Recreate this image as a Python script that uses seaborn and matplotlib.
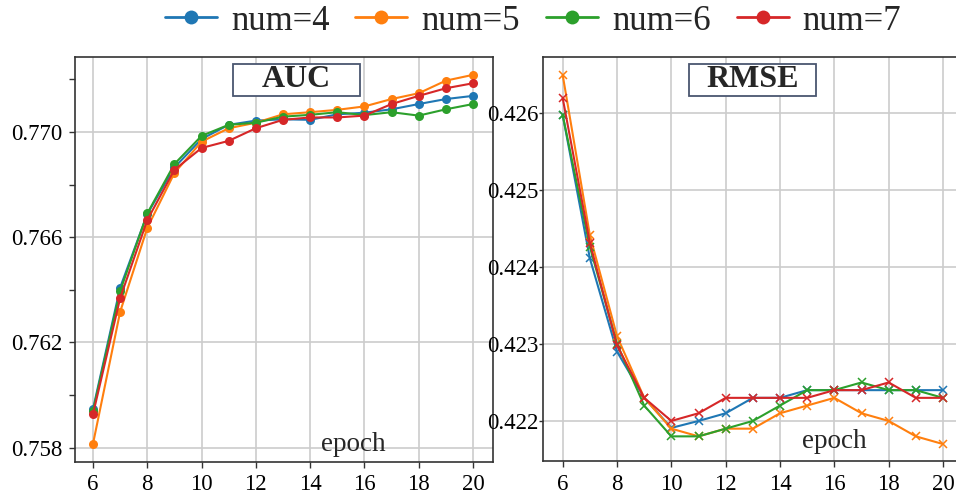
import numpy as np
import pandas as pd
import seaborn as sns
import matplotlib
matplotlib.use("Agg")
import matplotlib.pyplot as plt
from matplotlib.patches import Rectangle
from matplotlib.lines import Line2D
from matplotlib.ticker import FormatStrFormatter, MultipleLocator, FixedLocator

# ---------------- data ----------------
epochs = [6, 7, 8, 9, 10, 11, 12, 13, 14, 15, 16, 17, 18, 19, 20]
series_names = ["num=4", "num=5", "num=6", "num=7"]

auc_num4 = [0.75946, 0.76408, 0.76688, 0.76865, 0.76973, 0.77027, 0.77043, 0.77048,
            0.77046, 0.77067, 0.77073, 0.77086, 0.77106, 0.77125, 0.77137]
auc_num5 = [0.75814, 0.76316, 0.76635, 0.76844, 0.76963, 0.77014, 0.77035, 0.77067,
            0.77075, 0.77084, 0.77097, 0.77125, 0.77147, 0.77195, 0.77217]
auc_num6 = [0.75939, 0.76395, 0.76690, 0.76878, 0.76985, 0.77027, 0.77035, 0.77058,
            0.77065, 0.77075, 0.77064, 0.77075, 0.77062, 0.77086, 0.77106]
auc_num7 = [0.75927, 0.76368, 0.76665, 0.76856, 0.76939, 0.76966, 0.77014, 0.77046,
            0.77055, 0.77055, 0.77062, 0.77106, 0.77137, 0.77166, 0.77185]

rmse_num4 = [0.42597, 0.42411, 0.42290, 0.42230, 0.42191, 0.42200, 0.42210, 0.42230,
             0.42230, 0.42240, 0.42240, 0.42240, 0.42240, 0.42240, 0.42240]
rmse_num5 = [0.42649, 0.42441, 0.42310, 0.42230, 0.42190, 0.42180, 0.42190, 0.42190,
             0.42210, 0.42220, 0.42230, 0.42210, 0.42200, 0.42180, 0.42170]
rmse_num6 = [0.42597, 0.42426, 0.42300, 0.42220, 0.42180, 0.42180, 0.42190, 0.42200,
             0.42220, 0.42240, 0.42240, 0.42250, 0.42240, 0.42240, 0.42230]
rmse_num7 = [0.42619, 0.42431, 0.42298, 0.42230, 0.42200, 0.42210, 0.42230, 0.42230,
             0.42230, 0.42230, 0.42240, 0.42240, 0.42250, 0.42230, 0.42230]

auc_series = [auc_num4, auc_num5, auc_num6, auc_num7]
rmse_series = [rmse_num4, rmse_num5, rmse_num6, rmse_num7]

rows = []
for name, a, r in zip(series_names, auc_series, rmse_series):
    for e, av, rv in zip(epochs, a, r):
        rows.append({"epoch": e, "num": name, "AUC": av, "RMSE": rv})
df = pd.DataFrame(rows)

# ---------------- style ----------------
sns.set_theme(style="whitegrid")
plt.rcParams["font.family"] = ["Liberation Serif", "DejaVu Serif"]

palette = ["#1f77b4", "#ff7f0e", "#2ca02c", "#d62728"]
W, H = 956, 497
fig = plt.figure(figsize=(W / 100, H / 100), dpi=100)

def rect(x0, y0, x1, y1):
    return [x0 / W, 1 - y1 / H, (x1 - x0) / W, (y1 - y0) / H]

ax1 = fig.add_axes(rect(75, 56.7, 493, 462))
ax2 = fig.add_axes(rect(543.3, 56.7, 962, 461))

sns.lineplot(data=df, x="epoch", y="AUC", hue="num", hue_order=series_names,
             palette=palette, marker="o", markersize=6.5, markeredgewidth=0,
             linewidth=1.5, ax=ax1, legend=False)
sns.lineplot(data=df, x="epoch", y="RMSE", hue="num", hue_order=series_names,
             palette=palette, marker="x", markersize=6, markeredgewidth=1.1,
             linewidth=1.5, ax=ax2, legend=False)
for ln in ax2.get_lines():
    ln.set_markeredgecolor(ln.get_color())
for ln in ax1.get_lines():
    ln.set_markeredgecolor(ln.get_color())

ax1.set_xlim(5.337, 20.737)
ax1.set_ylim(0.75745, 0.77286)
ax2.set_xlim(5.285, 20.70)
ax2.set_ylim(0.42148, 0.42673)

for ax in (ax1, ax2):
    ax.set_facecolor("white")
    ax.set_xlabel("")
    ax.set_ylabel("")
    ax.xaxis.set_major_locator(MultipleLocator(2))
    ax.grid(True, which="major", color="#cccccc", linewidth=1.2)
    for s in ax.spines.values():
        s.set_color("#333333")
        s.set_linewidth(1.2)
    ax.tick_params(axis="both", which="major", labelsize=16.5, colors="#333333",
                   labelcolor="black", length=4, width=1, direction="out",
                   left=True, bottom=True)
    ax.tick_params(axis="x", pad=5)

ax1.yaxis.set_major_locator(FixedLocator([0.758, 0.762, 0.766, 0.770]))
ax1.yaxis.set_minor_locator(FixedLocator([0.760, 0.764, 0.768, 0.772]))
ax1.yaxis.set_major_formatter(FormatStrFormatter("%.3f"))
ax1.tick_params(axis="y", which="minor", length=4, width=1, color="#333333", left=True)
ax1.tick_params(axis="y", which="major", pad=5)

ax2.yaxis.set_major_locator(FixedLocator([0.422, 0.423, 0.424, 0.425, 0.426]))
ax2.yaxis.set_major_formatter(FormatStrFormatter("%.3f"))
ax2.tick_params(axis="y", which="major", pad=0.5, length=3)

# title boxes
def title_box(ax, x0, x1, y0, y1, label, xc):
    ax.add_patch(Rectangle((x0, y0), x1 - x0, y1 - y0, transform=ax.transAxes,
                           facecolor="white", edgecolor="#4a5670", linewidth=1.3,
                           zorder=5, clip_on=False))
    ax.text(xc, (y0 + y1) / 2, label, transform=ax.transAxes, ha="center",
            va="center", fontsize=23, fontweight="bold", zorder=6)

title_box(ax1, 0.378, 0.682, 0.904, 0.983, "AUC", 0.53)
title_box(ax2, 0.348, 0.652, 0.904, 0.983, "RMSE", 0.50)

ax1.text(0.665, 0.027, "epoch", transform=ax1.transAxes, ha="center",
         va="baseline", fontsize=19.5)
ax2.text(0.696, 0.033, "epoch", transform=ax2.transAxes, ha="center",
         va="baseline", fontsize=19.5)

handles = [Line2D([], [], color=c, linewidth=2, marker="o", markersize=10,
                  markeredgewidth=0) for c in palette]
fig.legend(handles, series_names, loc="center", bbox_to_anchor=(533 / W, 1 - 21 / H),
           ncol=4, frameon=False, fontsize=25, handlelength=1.5, handletextpad=0.4,
           columnspacing=0.75, borderpad=0.1)

fig.savefig("out.png", dpi=100)
